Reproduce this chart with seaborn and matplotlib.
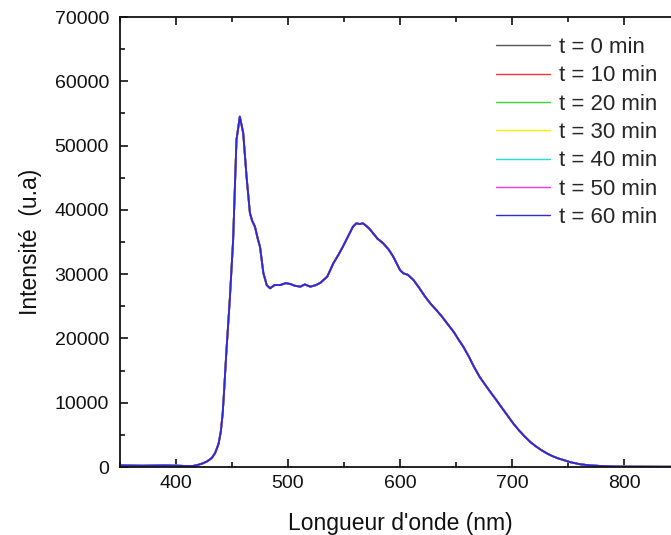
import numpy as np
import pandas as pd
import matplotlib
matplotlib.use("Agg")
import matplotlib.pyplot as plt
import seaborn as sns
from matplotlib.ticker import MultipleLocator

# Data (all seven curves overlap)
wavelength = [350, 370, 390, 402, 410, 415, 420, 424, 428, 432, 435, 438, 440,
              441.7, 443, 445, 448, 451, 454, 457, 460, 463, 466, 468, 470.5, 473,
              475, 478, 481, 484, 488, 493, 498, 502, 506, 511, 515, 520, 525, 529,
              535, 540.5, 545, 549, 554, 558, 561, 564, 567, 570, 573, 576, 580,
              585, 590, 594, 600, 603, 607, 612, 617, 622, 627, 632, 637, 642,
              648, 652, 656.5, 662, 666, 671, 676, 681, 686, 691, 696, 701, 706,
              711, 716, 721, 726, 731, 736, 741, 746, 752, 761, 770, 780, 791,
              805, 820, 835, 850]
intensity = [250, 200, 250, 200, 150, 150, 350, 570, 900, 1400, 2200, 3600, 5500,
             8350, 12000, 18000, 25980, 35300, 50900, 54500, 51950, 45160, 39500,
             38300, 37380, 35500, 34270, 30180, 28300, 27800, 28300, 28300, 28600,
             28470, 28200, 28050, 28400, 28050, 28300, 28670, 29600, 31690, 33000,
             34270, 36000, 37380, 37900, 37800, 37900, 37490, 37000, 36350, 35500,
             34800, 33800, 32710, 30640, 30130, 29900, 29090, 27900, 26600, 25460,
             24500, 23500, 22360, 21000, 19900, 18720, 17000, 15600, 14050, 12800,
             11600, 10420, 9200, 8000, 6800, 5750, 4800, 3940, 3250, 2650, 2130,
             1700, 1350, 1090, 750, 420, 250, 150, 80, 60, 50, 40, 40]
times = [0, 10, 20, 30, 40, 50, 60]
labels = [f"t = {t} min" for t in times]
colors = ["#555555", "#ff3333", "#33dd33", "#f0f000", "#22dddd", "#ee33ee", "#2b2bd6"]

frames = []
for lab in labels:
    frames.append(pd.DataFrame({"wl": wavelength, "I": intensity, "serie": lab}))
df = pd.concat(frames, ignore_index=True)

sns.set_theme(style="ticks")
plt.rcParams["font.family"] = ["Liberation Sans", "DejaVu Sans"]

fig = plt.figure(figsize=(6.71, 5.35), dpi=100)
ax = fig.add_axes([120 / 671, 1 - 467 / 535, 560 / 671, 450 / 535])

sns.lineplot(data=df, x="wl", y="I", hue="serie", hue_order=labels,
             palette=dict(zip(labels, colors)), linewidth=1.3, ax=ax,
             estimator=None, sort=False)

ax.set_xlim(350, 850)
ax.set_ylim(0, 70000)
ax.xaxis.set_major_locator(MultipleLocator(100))
ax.xaxis.set_minor_locator(MultipleLocator(50))
ax.yaxis.set_major_locator(MultipleLocator(10000))
ax.yaxis.set_minor_locator(MultipleLocator(5000))
ax.tick_params(which="both", direction="in", top=True, right=True, width=1.2,
               colors="#111111", labelsize=14)
ax.tick_params(which="major", length=6)
ax.tick_params(which="minor", length=3.5)
ax.tick_params(axis="x", pad=6)
ax.tick_params(axis="y", pad=8)
for s in ax.spines.values():
    s.set_linewidth(1.3)
    s.set_color("#111111")

ax.set_xlabel("Longueur d'onde (nm)", fontsize=16.5, color="#111111", labelpad=14)
ax.set_ylabel("Intensité  (u.a)", fontsize=16.5, color="#111111", labelpad=9)

leg = ax.legend(loc="upper right", bbox_to_anchor=(657 / 671, 1 - 37 / 535),
                bbox_transform=fig.transFigure, frameon=False, fontsize=16,
                handlelength=2.4, handletextpad=0.4, labelspacing=0.33,
                borderpad=0, borderaxespad=0)
for line in leg.get_lines():
    line.set_linewidth(1.0)

fig.savefig("out.png", dpi=100)
